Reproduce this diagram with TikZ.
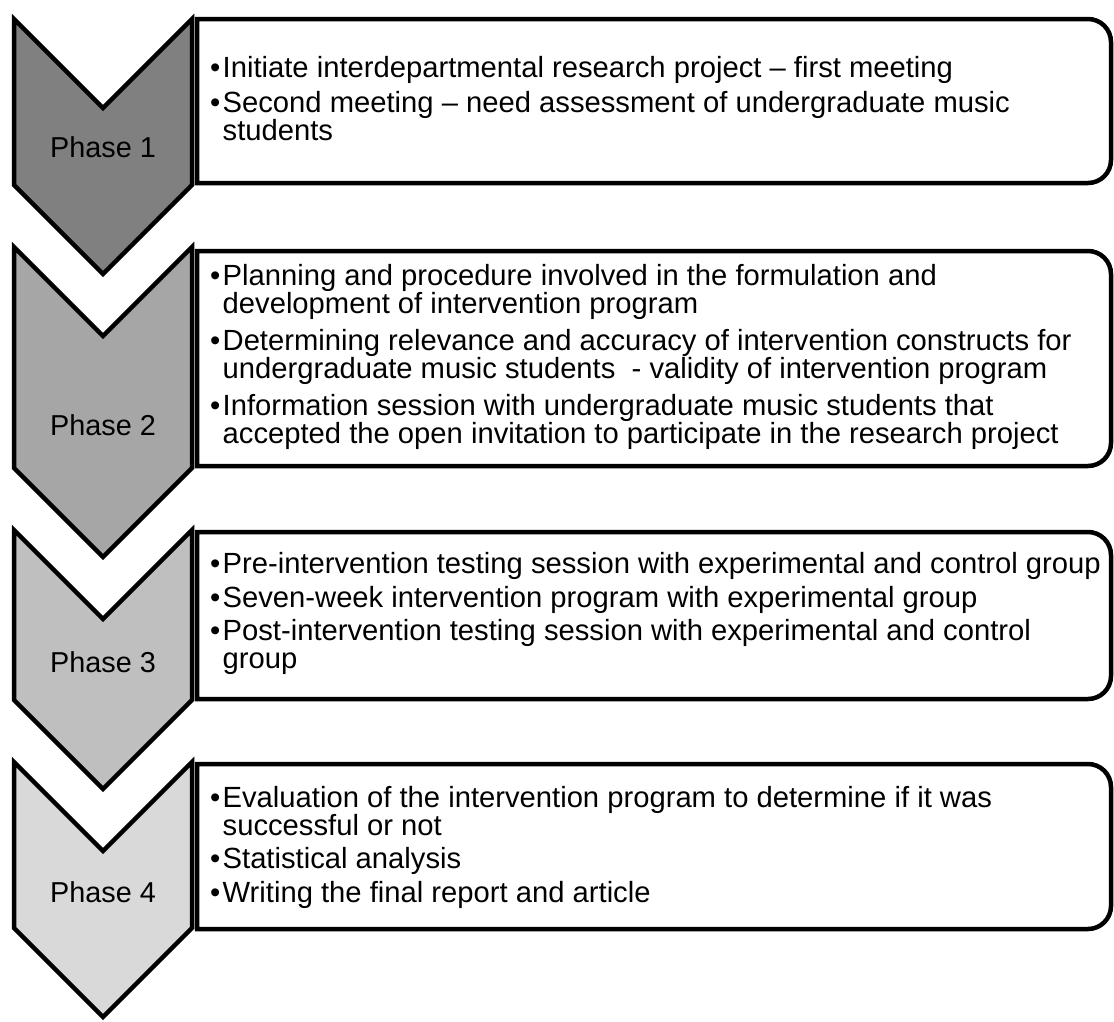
\documentclass[tikz,border=0pt]{standalone}
\usepackage{fontspec}
\setmainfont{Liberation Sans}
\definecolor{phA}{gray}{0.50}
\definecolor{phB}{gray}{0.65}
\definecolor{phC}{gray}{0.75}
\definecolor{phD}{gray}{0.85}
\newcommand\phasechev[3]{% top y, side bottom y, fill
  \draw[chev, fill=#3] (14,#1) -- (103,#1+89) -- (192,#1) -- (192,#2) -- (103,#2+89) -- (14,#2) -- cycle;}
\newcommand\phasebox[2]{% top y, bottom y
  \draw[tbox] (197,#1) -- (1088,#1) arc[start angle=-90,end angle=0,radius=23]
    -- (1111,#2-23) arc[start angle=0,end angle=90,radius=23] -- (197,#2) -- cycle;}
\newcommand\bul[1]{\parbox[t]{900pt}{\hangindent=12.5pt\hangafter=1\noindent\makebox[12.5pt][l]{•}#1}}
\begin{document}
\begin{tikzpicture}[x=1pt,y=-1pt,
  chev/.style={draw=black, line width=4.5pt, line join=miter},
  tbox/.style={draw=black, line width=4.5pt, fill=white},
  item/.style={anchor=base west, inner sep=0pt, font=\fontsize{29.2}{28.8}\selectfont},
  phase/.style={anchor=center, inner sep=0pt, font=\fontsize{28.8}{30}\selectfont}]
\useasboundingbox (0,0) rectangle (1114,1021);
\fill[white] (0,0) rectangle (1114,1021);
% chevrons
\phasechev{19}{185}{phA}
\phasechev{247}{468}{phB}
\phasechev{530}{700}{phC}
\phasechev{762}{928}{phD}
% boxes
\phasebox{19}{183}
\phasebox{251}{466}
\phasebox{532}{699}
\phasebox{764}{929}
% phase labels
\node[phase] (p1) at (103,147) {Phase 1};
\node[phase] (p2) at (103,425) {Phase 2};
\node[phase] (p3) at (103,662) {Phase 3};
\node[phase] (p4) at (103,892) {Phase 4};
% box 1
\node[item] (a1) at (210,77) {\bul{Initiate interdepartmental research project – first meeting}};
\node[item] (a2) at (210,112) {\bul{Second meeting – need assessment of undergraduate music\\students}};
% box 2
\node[item] (b1) at (210,285) {\bul{Planning and procedure involved in the formulation and\\development of intervention program}};
\node[item] (b2) at (210,350) {\bul{Determining relevance and accuracy of intervention constructs for\\undergraduate music students\ \ - validity of intervention program}};
\node[item] (b3) at (210,415) {\bul{Information session with undergraduate music students that\\accepted the open invitation to participate in the research project}};
% box 3
\node[item] (c1) at (210,573) {\bul{Pre-intervention testing session with experimental and control group}};
\node[item] (c2) at (210,607) {\bul{Seven-week intervention program with experimental group}};
\node[item] (c3) at (210,640) {\bul{Post-intervention testing session with experimental and control\\group}};
% box 4
\node[item] (d1) at (210,807) {\bul{Evaluation of the intervention program to determine if it was\\successful or not}};
\node[item] (d2) at (210,868) {\bul{Statistical analysis}};
\node[item] (d3) at (210,902) {\bul{Writing the final report and article}};
\end{tikzpicture}
\end{document}
